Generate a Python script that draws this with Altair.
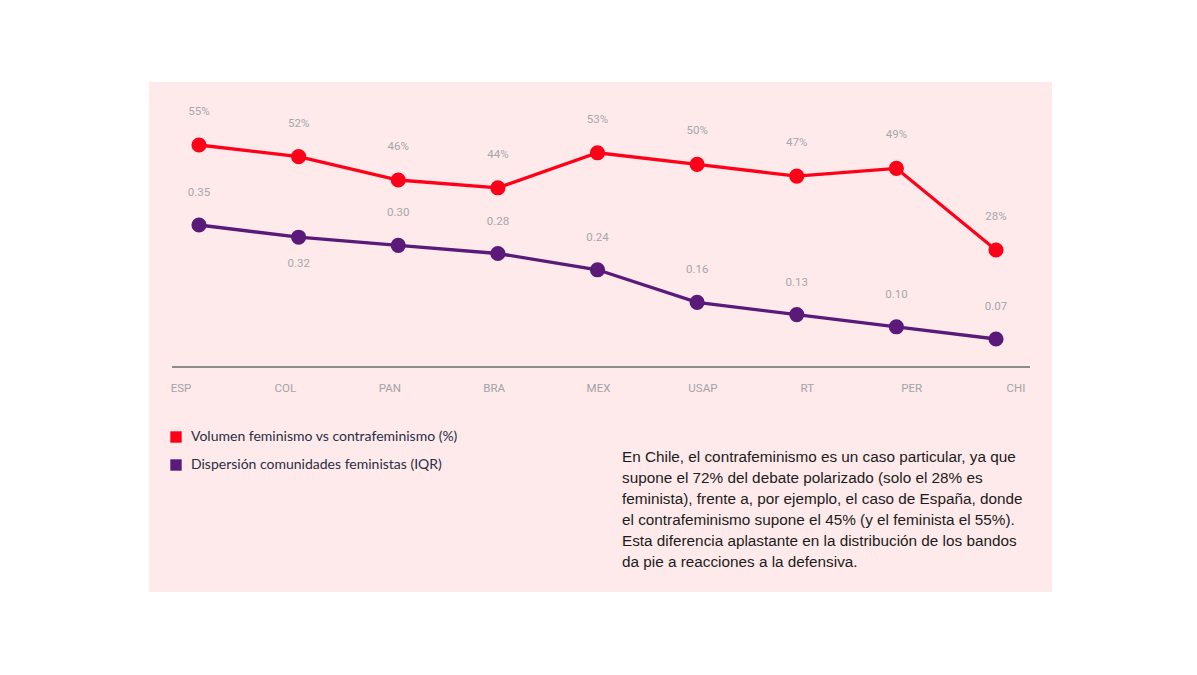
import altair as alt
import pandas as pd

countries = ["ESP", "COL", "PAN", "BRA", "MEX", "USAP", "RT", "PER", "CHI"]
volumen = [55, 52, 46, 44, 53, 50, 47, 49, 28]
dispersion = [0.35, 0.32, 0.30, 0.28, 0.24, 0.16, 0.13, 0.10, 0.07]
vol_labels = ["55%", "52%", "46%", "44%", "53%", "50%", "47%", "49%", "28%"]
disp_labels = ["0.35", "0.32", "0.30", "0.28", "0.24", "0.16", "0.13", "0.10", "0.07"]
disp_below = ["COL"]
series_names = ["Volumen feminismo vs contrafeminismo (%)", "Dispersión comunidades feministas (IQR)"]
series_colors = ["#ff0019", "#5a1a7a"]
note_lines = [
    "En Chile, el contrafeminismo es un caso particular, ya que",
    "supone el 72% del debate polarizado (solo el 28% es",
    "feminista), frente a, por ejemplo, el caso de España, donde",
    "el contrafeminismo supone el 45% (y el feminista el 55%).",
    "Esta diferencia aplastante en la distribución de los bandos",
    "da pie a reacciones a la defensiva.",
]

rows = []
for c, v, l in zip(countries, volumen, vol_labels):
    rows.append({"pais": c, "serie": series_names[0], "valor": v, "etiqueta": l})
for c, v, l in zip(countries, dispersion, disp_labels):
    rows.append({"pais": c, "serie": series_names[1], "valor": v, "etiqueta": l})
df = pd.DataFrame(rows)
one = pd.DataFrame({"k": [0]})
df_c = pd.DataFrame({"pais": countries})

LABEL_FONT = "Liberation Sans Narrow, Roboto, Liberation Sans, sans-serif"
x_pts = alt.X("pais:N", sort=countries,
              scale=alt.Scale(domain=countries, range=[50, 847], padding=0), axis=None)
color_enc = alt.Color(
    "serie:N",
    scale=alt.Scale(domain=series_names, range=series_colors),
    legend=alt.Legend(
        title=None, orient="none", legendX=20, legendY=348, symbolType="square",
        symbolSize=130, symbolStrokeWidth=0, symbolOpacity=1,
        labelFont="Lato", labelFontSize=14, labelColor="#2a2e45", labelOffset=8,
        rowPadding=14, labelLimit=500,
    ),
)

base = alt.Chart(df)

def series_layers(name, color, yscale):
    b = base.transform_filter(alt.datum.serie == name)
    y = alt.Y("valor:Q", scale=yscale, axis=None)
    line = b.mark_line(color=color, strokeWidth=3.3).encode(x=x_pts, y=y)
    pts = b.mark_circle(size=230, opacity=1).encode(x=x_pts, y=y, color=color_enc)
    return line, pts, b, y

vol_scale = alt.Scale(domain=[28, 55], range=[168, 63], zero=False)
disp_scale = alt.Scale(domain=[0.07, 0.35], range=[257, 143], zero=False)

vline, vpts, vb, vy = series_layers(series_names[0], series_colors[0], vol_scale)
dline, dpts, db, dy_ = series_layers(series_names[1], series_colors[1], disp_scale)

txt_style = dict(font=LABEL_FONT, fontSize=11.5, color="#a7a7ab", baseline="middle")
vtxt = vb.mark_text(dy=-33, **txt_style).encode(x=x_pts, y=vy, text="etiqueta:N")
dtxt_a = db.transform_filter(~alt.FieldOneOfPredicate(field="pais", oneOf=disp_below)).mark_text(
    dy=-32, **txt_style).encode(x=x_pts, y=dy_, text="etiqueta:N")
dtxt_b = db.transform_filter(alt.FieldOneOfPredicate(field="pais", oneOf=disp_below)).mark_text(
    dy=27, **txt_style).encode(x=x_pts, y=dy_, text="etiqueta:N")

axis_line = alt.Chart(one).mark_rule(color="#8c8c8c", strokeWidth=2).encode(
    x=alt.value(23), x2=alt.value(881), y=alt.value(285))
axis_labels = alt.Chart(df_c).mark_text(font=LABEL_FONT, fontSize=11.5, color="#a3a3a8", baseline="middle").encode(
    x=alt.X("pais:N", sort=countries,
            scale=alt.Scale(domain=countries, range=[32, 867], padding=0), axis=None),
    y=alt.value(307), text="pais:N")

note = alt.Chart(one).mark_text(
    align="left", baseline="alphabetic", lineBreak="\n", lineHeight=21,
    font="Liberation Sans, Arial, sans-serif", fontSize=15.3, color="#1c1c1c",
).encode(x=alt.value(473), y=alt.value(380), text=alt.value("\n".join(note_lines)))

chart = alt.layer(
    axis_line, axis_labels, vline, dline, vpts, dpts, vtxt, dtxt_a, dtxt_b, note
).resolve_scale(
    x="independent", y="independent", color="shared"
).properties(
    width=903, height=510,
    background="white",
    autosize=alt.AutoSizeParams(type="none"),
    padding={"left": 141, "top": 74, "right": 0, "bottom": 0},
).configure_view(
    fill="#feeaea", strokeWidth=0
)

chart.save("out.html", embed_options={"renderer": "svg", "actions": False})
